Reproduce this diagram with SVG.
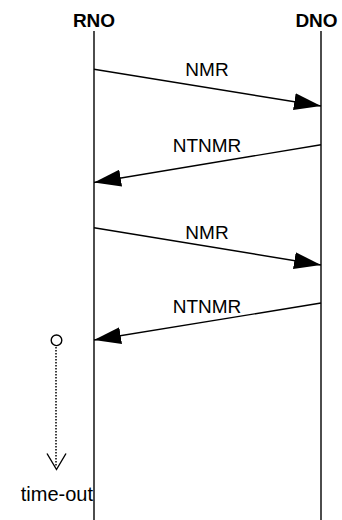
<svg xmlns="http://www.w3.org/2000/svg" width="342" height="520" viewBox="0 0 342 520">
<style>
.hdr{font-family:"Liberation Sans",Arial,sans-serif;font-weight:bold;font-size:19px;fill:#000;text-anchor:middle}
.lbl{font-family:"Liberation Sans",Arial,sans-serif;font-size:19px;fill:#000;text-anchor:middle}
.life{stroke:#000;stroke-width:1.4;fill:none}
.msg{stroke:#000;stroke-width:1.4;fill:none;marker-end:url(#ah)}
</style>
<defs>
<marker id="ah" markerUnits="userSpaceOnUse" markerWidth="27" markerHeight="17" viewBox="0 0 27 17" refX="27" refY="8.5" orient="auto">
<path d="M0,0 L27,8.5 L0,17 z" fill="#000"/>
</marker>
</defs>
<g id="RNO">
<text class="hdr" x="94" y="27">RNO</text>
<line class="life" x1="94" y1="31" x2="94" y2="520"/>
</g>
<g id="DNO">
<text class="hdr" x="316.5" y="27">DNO</text>
<line class="life" x1="321" y1="31" x2="321" y2="520"/>
</g>
<g id="connectors">
<line class="msg" x1="94" y1="69.3" x2="321" y2="106"/>
<text class="lbl" x="207" y="76">NMR</text>
<line class="msg" x1="321" y1="144.7" x2="94" y2="182.5"/>
<text class="lbl" x="207" y="151.5">NTNMR</text>
<line class="msg" x1="94" y1="227.7" x2="321" y2="265"/>
<text class="lbl" x="207" y="239">NMR</text>
<line class="msg" x1="321" y1="303" x2="94" y2="340"/>
<text class="lbl" x="207" y="313">NTNMR</text>
</g>
<g id="timeout">
<circle cx="56.5" cy="340.3" r="5.3" fill="#fff" stroke="#000" stroke-width="1.4"/>
<line x1="56" y1="347" x2="56" y2="467" stroke="#000" stroke-width="1.5" stroke-dasharray="1.5 1.5"/>
<polyline points="47,453.5 56.5,469.5 66,453.5" fill="none" stroke="#000" stroke-width="1.4"/>
<text class="lbl" x="93" y="501" style="text-anchor:end;font-size:20px">time-out</text>
</g>
</svg>
